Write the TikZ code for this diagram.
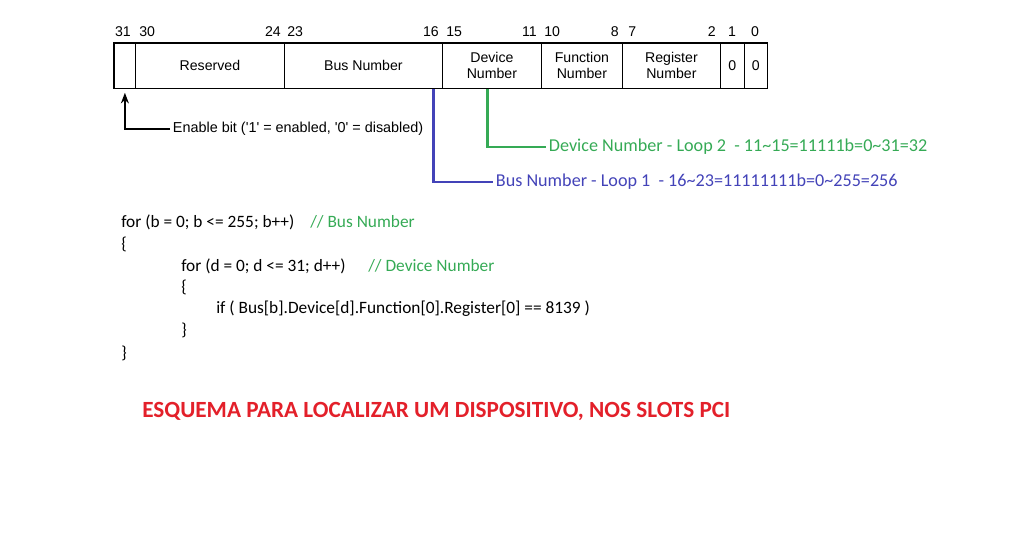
\documentclass[tikz,border=0pt]{standalone}
\usepackage{fontspec}
\setmainfont{Carlito}
\newfontfamily\headfont{Liberation Sans}
\usetikzlibrary{arrows.meta}
\definecolor{busblue}{HTML}{4343B8}
\definecolor{devgreen}{HTML}{35AA55}
\definecolor{titlered}{HTML}{E3202A}
\tikzset{
  field/.style={draw, minimum height=33.75pt, inner sep=0pt, anchor=north west,
                font=\headfont\fontsize{10.6}{12}\selectfont, align=center, line width=0.6pt},
  bitnum/.style={inner sep=0pt, font=\headfont\fontsize{10.6}{12}\selectfont},
  note/.style={inner sep=2pt, anchor=west, font=\headfont\fontsize{10.8}{12}\selectfont},
  code/.style={inner sep=0pt, anchor=base west, font=\fontsize{13}{15}\selectfont},
  comment/.style={code, text=devgreen},
  looplabel/.style={inner sep=2pt, anchor=west, font=\fontsize{13.6}{15}\selectfont},
  busline/.style={busblue, line width=2pt},
  devline/.style={devgreen, line width=2pt},
}

\begin{document}
\begin{tikzpicture}[x=0.75pt, y=-0.75pt]
  \useasboundingbox (0,0) rectangle (1015,545);
  % register fields
  \foreach \i/\a/\b/\t in {1/114/135/{}, 2/135/284/Reserved, 3/284/442/Bus Number,
      4/442/541/{Device\\Number}, 5/541/622/{Function\\Number},
      6/622/720/{Register\\Number}, 7/720/744/0, 8/744/767/0}{
    \pgfmathsetmacro{\w}{(\b-\a)*0.75}
    \node[field, minimum width=\w pt] (f\i) at (\a,43) {\t};
  }
  \draw[line width=1pt] (f1.north west) rectangle (f8.south east);
  % bit numbers
  \foreach \x/\an/\t in {123/base/31, 139/base west/30, 281/base east/24, 287/base west/23,
      439/base east/16, 446/base west/15, 537/base east/11, 544/base west/10,
      619/base east/8, 628/base west/7, 716/base east/2, 732/base/1, 755/base/0}{
    \node[bitnum, anchor=\an] at (\x,37) {\t};
  }
  % notes
  \node[note] (enl) at (170,129) {Enable bit ('1' = enabled, '0' = disabled)};
  \draw[-{Stealth[length=8pt, width=6pt]}, line width=1pt] (enl.west) -| ([yshift=-3pt]f1.south);
  \node[looplabel, text=devgreen] (devl) at (546,147) {Device Number - Loop 2\ \ - 11\textasciitilde15=11111b=0\textasciitilde31=32};
  \draw[devline] ([xshift=-3.4pt]f4.south) |- (devl.west);
  \node[looplabel, text=busblue] (busl) at (493,182) {Bus Number - Loop 1\ \ - 16\textasciitilde23=11111111b=0\textasciitilde255=256};
  \draw[busline] ([xshift=-6.75pt]f3.south east) |- (busl.west);
  % code
  \node[code] (l1) at (121,228) {for (b = 0; b <= 255; b++)};
  \node[comment] (c1) at (310,228) {// Bus Number};
  \node[code] (l2) at (121,250) {\{};
  \node[code] (l3) at (181,272) {for (d = 0; d <= 31; d++)};
  \node[comment] (c3) at (368,272) {// Device Number};
  \node[code] (l4) at (181,293) {\{};
  \node[code] (l5) at (216,314) {if ( Bus[b].Device[d].Function[0].Register[0] == 8139 )};
  \node[code] (l6) at (181,336) {\}};
  \node[code] (l7) at (121,359) {\}};
  % title
  \node[inner sep=0pt, anchor=base west, text=titlered, font=\bfseries\fontsize{17.4}{20}\selectfont]
    (title) at (142,418) {ESQUEMA PARA LOCALIZAR UM DISPOSITIVO, NOS SLOTS PCI};
\end{tikzpicture}
\end{document}
